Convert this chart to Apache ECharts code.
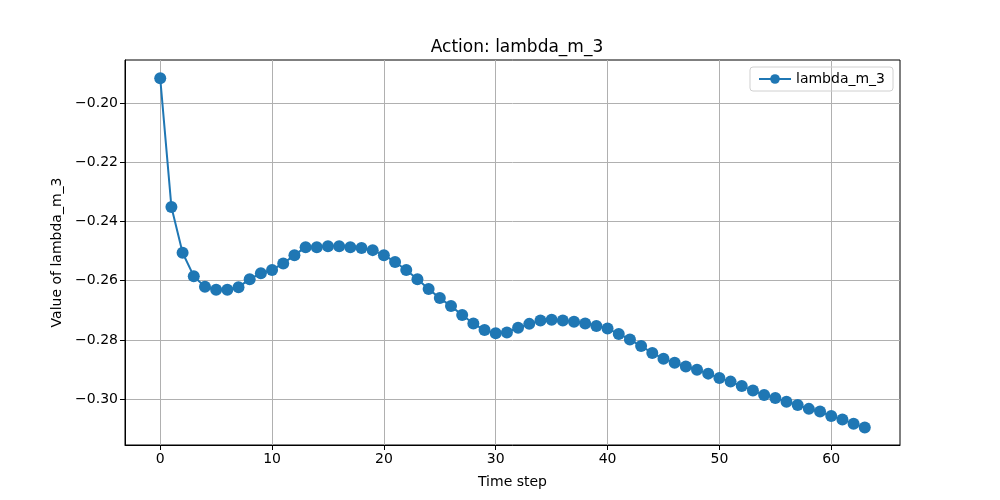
<!DOCTYPE html>
<html>
<head>
<meta charset="utf-8">
<script src="https://cdn.jsdelivr.net/npm/echarts@6/dist/echarts.min.js"></script>
<style>
  html, body { margin: 0; padding: 0; background: #fff; }
  #chart { width: 1000px; height: 500px; }
</style>
</head>
<body>
<div id="chart"></div>
<script>
// values
const steps = [];
for (let i = 0; i < 64; i++) steps.push(i);

const lambdaM3 = [
  -0.1917, -0.2351, -0.2506, -0.2585, -0.2621, -0.2631, -0.2631, -0.2622,
  -0.2595, -0.2575, -0.2564, -0.2542, -0.2514, -0.2487, -0.2487, -0.2484,
  -0.2484, -0.2487, -0.2490, -0.2497, -0.2514, -0.2537, -0.2564, -0.2595,
  -0.2628, -0.2659, -0.2686, -0.2716, -0.2745, -0.2767, -0.2778, -0.2775,
  -0.2759, -0.2746, -0.2735, -0.2732, -0.2735, -0.2739, -0.2745, -0.2753,
  -0.2762, -0.2780, -0.2799, -0.2821, -0.2844, -0.2864, -0.2877, -0.2890,
  -0.2901, -0.2914, -0.2929, -0.2941, -0.2956, -0.2971, -0.2986, -0.2996,
  -0.3009, -0.3020, -0.3033, -0.3042, -0.3057, -0.3069, -0.3083, -0.3096
];

const xTicks = [0, 10, 20, 30, 40, 50, 60];
const yTicks = [-0.30, -0.28, -0.26, -0.24, -0.22, -0.20];

const font = 'DejaVu Sans';

const chart = echarts.init(document.getElementById('chart'));

const option = {
  animation: false,
  title: {
    text: 'Action: lambda_m_3',
    left: 512,
    top: 34,
    textAlign: 'center',
    textStyle: { fontFamily: font, fontSize: 17, fontWeight: 'normal', color: '#000' }
  },
  legend: {
    right: 107,
    top: 67,
    padding: [5, 8, 5, 8],
    borderColor: '#d0d0d0',
    borderWidth: 1,
    borderRadius: 3,
    itemWidth: 32,
    itemHeight: 12,
    itemGap: 8,
    textStyle: { fontFamily: font, fontSize: 14, color: '#000' },
    data: ['lambda_m_3']
  },
  grid: {
    left: 125,
    right: 100,
    top: 60,
    bottom: 55,
    show: true,
    borderColor: '#000',
    borderWidth: 1
  },
  xAxis: {
    type: 'value',
    min: -3.15,
    max: 66.15,
    name: 'Time step',
    nameLocation: 'middle',
    nameGap: 30,
    nameTextStyle: { fontFamily: font, fontSize: 14, color: '#000' },
    axisLine: { show: true, onZero: false, lineStyle: { color: '#000' } },
    axisTick: { show: true, length: 5, customValues: xTicks, lineStyle: { color: '#000' } },
    axisLabel: {
      customValues: xTicks,
      fontFamily: font, fontSize: 14, color: '#000', margin: 7
    },
    splitLine: { show: true, lineStyle: { color: '#b0b0b0', width: 1 } }
  },
  yAxis: {
    type: 'value',
    min: -0.3155,
    max: -0.1855,
    name: 'Value of lambda_m_3',
    nameLocation: 'middle',
    nameGap: 60,
    nameTextStyle: { fontFamily: font, fontSize: 14, color: '#000' },
    axisLine: { show: true, onZero: false, lineStyle: { color: '#000' } },
    axisTick: { show: true, length: 5, customValues: yTicks, lineStyle: { color: '#000' } },
    axisLabel: {
      customValues: yTicks,
      fontFamily: font, fontSize: 14, color: '#000', margin: 7,
      formatter: v => '\u2212' + Math.abs(v).toFixed(2)
    },
    splitLine: { show: true, lineStyle: { color: '#b0b0b0', width: 1 } }
  },
  series: [
    {
      name: 'lambda_m_3',
      type: 'line',
      data: steps.map((s, i) => [s, lambdaM3[i]]),
      symbol: 'circle',
      symbolSize: 12,
      showAllSymbol: true,
      itemStyle: { color: '#1f77b4' },
      lineStyle: { color: '#1f77b4', width: 2 }
    }
  ]
};

chart.setOption(option);
</script>
</body>
</html>
